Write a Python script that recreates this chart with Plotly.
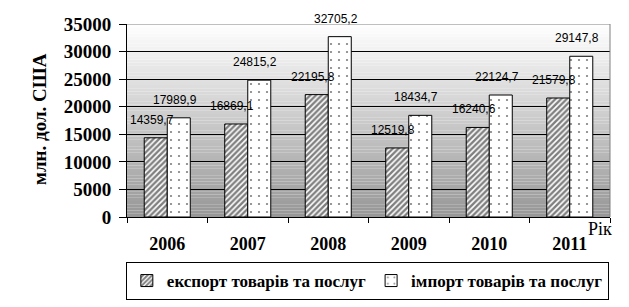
import plotly.graph_objects as go

years = ["2006", "2007", "2008", "2009", "2010", "2011"]
export_vals = [14359.7, 16869.1, 22195.8, 12519.8, 16240.6, 21579.8]
import_vals = [17989.9, 24815.2, 32705.2, 18434.7, 22124.7, 29147.8]
export_name = "експорт товарів та послуг"
import_name = "імпорт товарів та послуг"
y_ticks = [0, 5000, 10000, 15000, 20000, 25000, 30000, 35000]

def fmt(v):
    return f"{v:.1f}".replace(".", ",")

serif = "Liberation Serif"

fig = go.Figure()
fig.add_trace(go.Bar(
    x=years, y=export_vals, name=export_name,
    marker=dict(color="white", line=dict(color="black", width=1),
                pattern=dict(shape="/", fgcolor="black", bgcolor="white", size=4, solidity=0.6)),
))
fig.add_trace(go.Bar(
    x=years, y=import_vals, name=import_name,
    marker=dict(color="white", line=dict(color="black", width=1),
                pattern=dict(shape=".", fgcolor="black", bgcolor="white", size=8, solidity=0.06)),
))

# gradient background bands
n = 60
top = 35000
for i in range(n):
    y0 = top * i / n
    y1 = top * (i + 1) / n
    t = (i + 0.5) / n
    g = int(round(150 + (255 - 150) * t))
    fig.add_shape(type="rect", xref="paper", yref="y", x0=0, x1=1, y0=y0, y1=y1,
                  fillcolor=f"rgb({g},{g},{g})", line=dict(width=0), layer="below")

# plot area border top & right (gray)
fig.add_shape(type="line", xref="paper", yref="y", x0=0, x1=1, y0=top, y1=top,
              line=dict(color="#808080", width=1), layer="above")
fig.add_shape(type="line", xref="paper", yref="y", x0=1, x1=1, y0=0, y1=top,
              line=dict(color="#808080", width=1), layer="above")

ann = []
for i, (e, im) in enumerate(zip(export_vals, import_vals)):
    ann.append(dict(x=i - 0.143, y=e, xref="x", yref="y", text=fmt(e), showarrow=False,
                    yanchor="bottom", yshift=9, xshift=-4,
                    font=dict(family="Liberation Sans", size=12, color="black")))
    ann.append(dict(x=i + 0.143, y=im, xref="x", yref="y", text=fmt(im), showarrow=False,
                    yanchor="bottom", yshift=9, xshift=-4,
                    font=dict(family="Liberation Sans", size=12, color="black")))

ann.append(dict(x=-0.18, y=0.508, xref="paper", yref="paper", text="<b>млн. дол. США</b>",
                textangle=-90, showarrow=False, xanchor="center", yanchor="middle",
                font=dict(family=serif, size=19, color="black")))
ann.append(dict(x=1.0, y=0.0, xref="paper", yref="paper", text="Рік",
                showarrow=False, xanchor="right", yanchor="top", yshift=0, xshift=4,
                font=dict(family=serif, size=18, color="black")))

fig.update_layout(
    width=629, height=307,
    margin=dict(l=127, r=19, t=24, b=90, autoexpand=False),
    paper_bgcolor="white", plot_bgcolor="white",
    barmode="group", bargap=0.428, bargroupgap=0,
    showlegend=True,
    legend=dict(orientation="h", xref="container", yref="container",
                x=0.584, xanchor="center", y=1 - 262 / 307, yanchor="top",
                bordercolor="black", borderwidth=1, bgcolor="white",
                font=dict(family=serif, size=17, color="black", weight="bold"),
                itemwidth=30, tracegroupgap=0),
    annotations=ann,
    xaxis=dict(type="category", showline=True, linecolor="black", linewidth=1,
               ticks="outside", tickson="boundaries", ticklen=5, tickcolor="black",
               showgrid=False, ticklabelstandoff=10,
               tickfont=dict(family=serif, size=18, color="black", weight="bold"), range=[-0.5, 5.5]),
    yaxis=dict(range=[0, 35000], tickvals=y_ticks, ticktext=[str(v) for v in y_ticks],
               showline=True, linecolor="black", linewidth=1,
               ticks="outside", ticklen=7, tickcolor="black",
               showgrid=True, gridcolor="black", gridwidth=1, zeroline=False,
               ticklabelstandoff=4,
               tickfont=dict(family=serif, size=19, color="black", weight="bold")),
    font=dict(family=serif, color="black"),
)

fig.write_html("out.html")
